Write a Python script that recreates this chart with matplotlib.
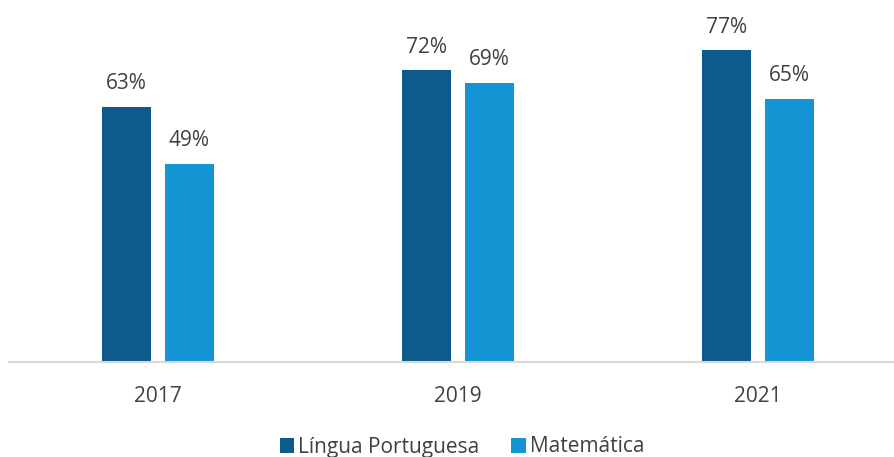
import matplotlib
matplotlib.use("Agg")
import matplotlib.pyplot as plt
import numpy as np

years = ["2017", "2019", "2021"]
portugues = [63, 72, 77]
matematica = [49, 69, 65]
series_names = ["Língua Portuguesa", "Matemática"]

plt.rcParams['font.family'] = ['Open Sans', 'DejaVu Sans']

W, H = 894, 457
fig = plt.figure(figsize=(W/100, H/100), dpi=100)
ax_left, ax_right, ax_bottom, ax_top = 9, 894, 457-362, 457
ax = fig.add_axes([ax_left/W, ax_bottom/H, (ax_right-ax_left)/W, (ax_top-ax_bottom)/H])

dark = "#0E5A8A"
light = "#1494D2"
txt = "#404040"

x = np.arange(len(years))
w = 0.163
off = 0.104
b1 = ax.bar(x - off, portugues, w, color=dark, label=series_names[0])
b2 = ax.bar(x + off, matematica, w, color=light, label=series_names[1])

for bars, vals in ((b1, portugues), (b2, matematica)):
    for rect, v in zip(bars, vals):
        ax.annotate(f"{v}%", (rect.get_x() + rect.get_width()/2, v),
                    xytext=(0, 9), textcoords="offset points",
                    ha="center", va="bottom", fontsize=15, color=txt)

px_per_unit = 300
left = 0 - (158 - ax_left) / px_per_unit
right = (ax_right - 158) / px_per_unit
ax.set_xlim(left, right)
ax.set_ylim(0, 362 / 4.05)

for s in ["top", "right", "left"]:
    ax.spines[s].set_visible(False)
ax.spines["bottom"].set_color("#D9D9D9")
ax.spines["bottom"].set_linewidth(1.5)
ax.set_yticks([])
ax.set_xticks(x)
ax.set_xticklabels(years, fontsize=15, color=txt)
ax.tick_params(axis="x", length=0, pad=17)

fig.legend(handles=[b1, b2], labels=series_names, loc="center",
           bbox_to_anchor=(462/W, 1 - 447/H), ncol=2, frameon=False,
           fontsize=15, labelcolor=txt, handlelength=0.7, handleheight=0.7,
           handletextpad=0.2, columnspacing=1.5)

fig.savefig("out.png", dpi=100)
